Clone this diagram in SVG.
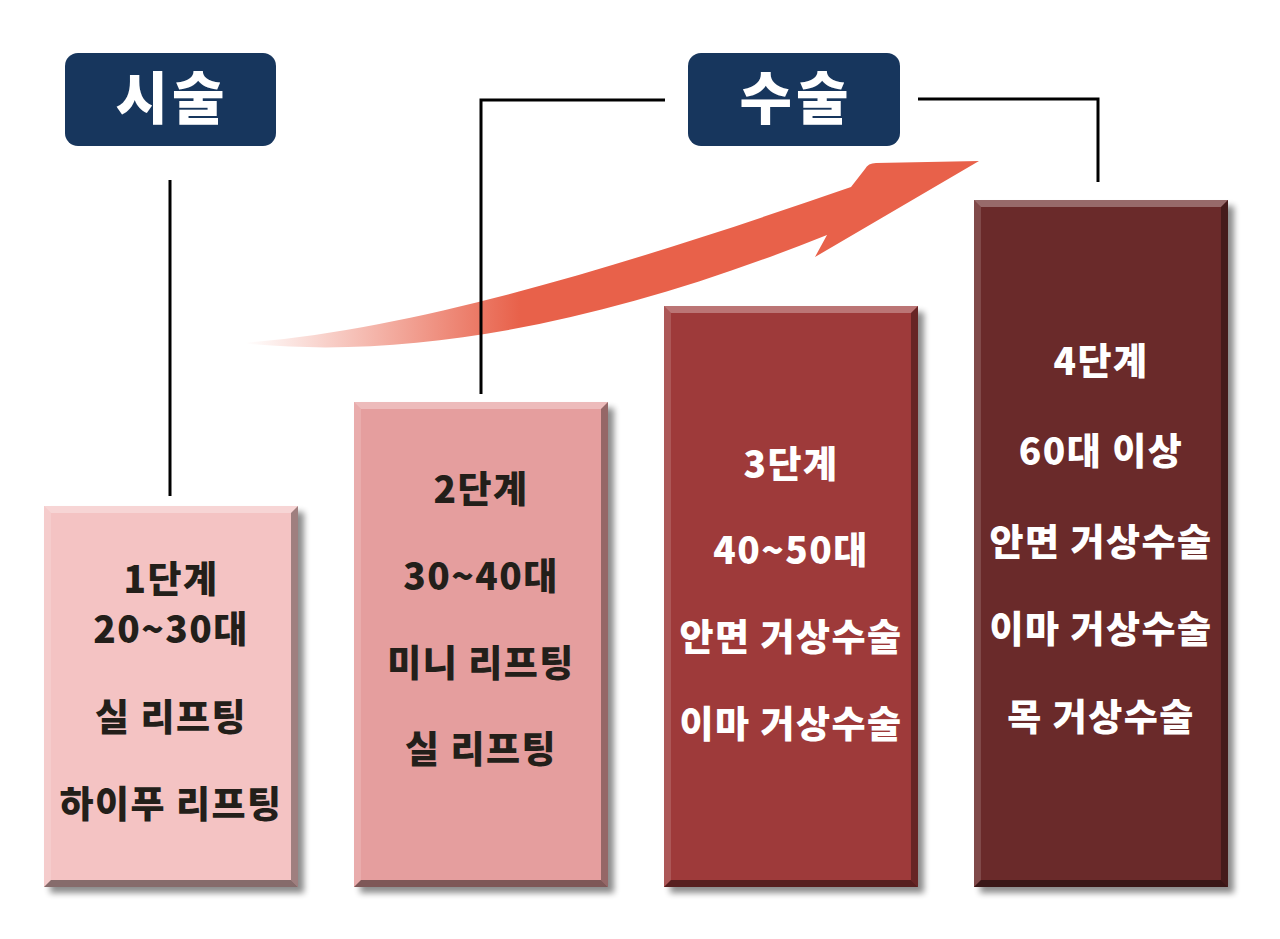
<svg xmlns="http://www.w3.org/2000/svg" width="1280" height="939" viewBox="0 0 1280 939">
<defs>
<style>
.t{font-family:"Noto Sans CJK KR","Noto Sans",sans-serif;font-weight:900;font-size:37px;text-anchor:middle;letter-spacing:1.5px}
.dk{fill:#231F1A}
.wt{fill:#FFFFFF}
.hd{font-family:"Noto Sans CJK KR","Noto Sans",sans-serif;font-weight:900;font-size:57px;text-anchor:middle;fill:#FFFFFF;letter-spacing:4px}
.hbox{fill:#17365D}
.ln{fill:none;stroke:#000000;stroke-width:3}
.shadow{fill:#000000;opacity:0.45;filter:url(#blur)}
.bt{fill:#FFFFFF;opacity:0.3}
.bl{fill:#FFFFFF;opacity:0.15}
.br{fill:#000000;opacity:0.35}
.bb{fill:#000000;opacity:0.45}
</style>
<filter id="blur" x="-20%" y="-20%" width="140%" height="140%"><feGaussianBlur stdDeviation="3"/></filter>
<linearGradient id="ag" gradientUnits="userSpaceOnUse" x1="245" y1="0" x2="520" y2="0">
<stop offset="0" stop-color="#E8614A" stop-opacity="0"/>
<stop offset="1" stop-color="#E8614A" stop-opacity="1"/>
</linearGradient>
</defs>
<rect width="1280" height="939" fill="#FFFFFF"/>

<g id="arrow">
<path d="M 240,343 C 420,330 640,260 851,187 L 865,169 Q 868,163 876,163 L 979,161 L 815,257 L 827,235 C 620,318 420,362 240,343 Z" fill="url(#ag)"/>
</g>

<g id="connectors">
<line class="ln" x1="170" y1="180" x2="170" y2="496"/>
<polyline class="ln" points="665,100 481,100 481,394"/>
<polyline class="ln" points="918,99 1098,99 1098,182"/>
</g>

<g id="header-sisul">
<rect class="hbox" x="65" y="53" width="211" height="93" rx="13"/>
<text class="hd" x="172" y="119">시술</text>
</g>
<g id="header-susul">
<rect class="hbox" x="688" y="53" width="212" height="93" rx="13"/>
<text class="hd" x="796" y="119">수술</text>
</g>

<g id="stage1">
<rect class="shadow" x="50" y="512" width="254" height="381"/>
<rect x="44" y="506" width="254" height="381" fill="#F4C3C3"/>
<polygon class="bt" points="44,506 298,506 291,513 51,513"/>
<polygon class="bl" points="44,506 51,513 51,880 44,887"/>
<polygon class="br" points="298,506 298,887 291,880 291,513"/>
<polygon class="bb" points="44,887 298,887 291,880 51,880"/>
<text class="t dk" x="171" y="593">1단계</text>
<text class="t dk" x="171" y="643">20~30대</text>
<text class="t dk" x="171" y="731">실 리프팅</text>
<text class="t dk" x="171" y="818">하이푸 리프팅</text>
</g>

<g id="stage2">
<rect class="shadow" x="360" y="408" width="254" height="485"/>
<rect x="354" y="402" width="254" height="485" fill="#E59E9E"/>
<polygon class="bt" points="354,402 608,402 601,409 361,409"/>
<polygon class="bl" points="354,402 361,409 361,880 354,887"/>
<polygon class="br" points="608,402 608,887 601,880 601,409"/>
<polygon class="bb" points="354,887 608,887 601,880 361,880"/>
<text class="t dk" x="481" y="503">2단계</text>
<text class="t dk" x="481" y="590">30~40대</text>
<text class="t dk" x="481" y="677">미니 리프팅</text>
<text class="t dk" x="481" y="763">실 리프팅</text>
</g>

<g id="stage3">
<rect class="shadow" x="670" y="312" width="254" height="581"/>
<rect x="664" y="306" width="254" height="581" fill="#9E3A3A"/>
<polygon class="bt" points="664,306 918,306 911,313 671,313"/>
<polygon class="bl" points="664,306 671,313 671,880 664,887"/>
<polygon class="br" points="918,306 918,887 911,880 911,313"/>
<polygon class="bb" points="664,887 918,887 911,880 671,880"/>
<text class="t wt" x="791" y="478">3단계</text>
<text class="t wt" x="791" y="564">40~50대</text>
<text class="t wt" x="791" y="651">안면 거상수술</text>
<text class="t wt" x="791" y="738">이마 거상수술</text>
</g>

<g id="stage4">
<rect class="shadow" x="980" y="206" width="254" height="687"/>
<rect x="974" y="200" width="254" height="687" fill="#6A2A2A"/>
<polygon class="bt" points="974,200 1228,200 1221,207 981,207"/>
<polygon class="bl" points="974,200 981,207 981,880 974,887"/>
<polygon class="br" points="1228,200 1228,887 1221,880 1221,207"/>
<polygon class="bb" points="974,887 1228,887 1221,880 981,880"/>
<text class="t wt" x="1101" y="375">4단계</text>
<text class="t wt" x="1101" y="465">60대 이상</text>
<text class="t wt" x="1101" y="556">안면 거상수술</text>
<text class="t wt" x="1101" y="643">이마 거상수술</text>
<text class="t wt" x="1101" y="731">목 거상수술</text>
</g>
</svg>
